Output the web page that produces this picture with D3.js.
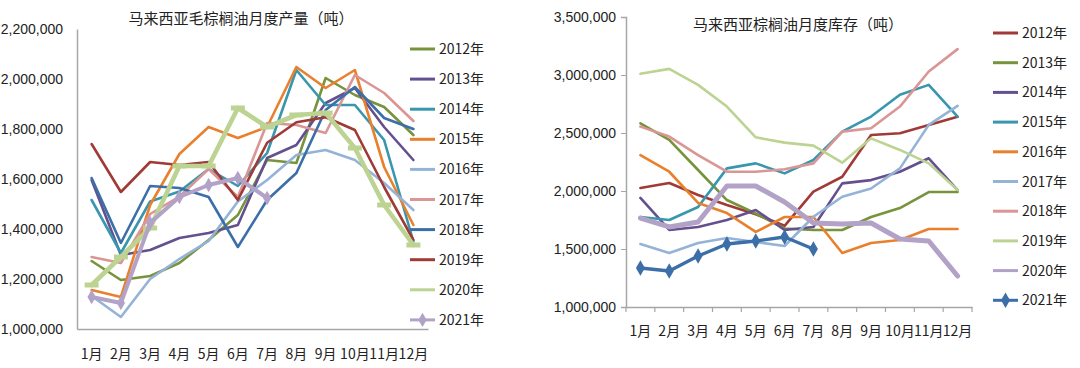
<!DOCTYPE html>
<html><head><meta charset="utf-8">
<script src="https://cdn.jsdelivr.net/npm/d3@7/dist/d3.min.js"></script>
<style>
html,body{margin:0;padding:0;background:#fff;}
svg{display:block;}
text{font-family:"Liberation Sans Narrow","Liberation Sans","Noto Sans CJK SC",sans-serif;fill:#222;}
.cjk{font-family:"Noto Sans CJK SC",sans-serif;}
</style></head><body>
<svg id="c" width="1080" height="368"></svg>
<script>
const months = ["1月","2月","3月","4月","5月","6月","7月","8月","9月","10月","11月","12月"];
const years = ["2012年","2013年","2014年","2015年","2016年","2017年","2018年","2019年","2020年","2021年"];
const prodTicks = [1000000,1200000,1400000,1600000,1800000,2000000,2200000];
const stockTicks = [1000000,1500000,2000000,2500000,3000000,3500000];
const prodTitle = "马来西亚毛棕榈油月度产量（吨）";
const stockTitle = "马来西亚棕榈油月度库存（吨）";

// Production (tonnes)
const prod2012 = [1272000,1196000,1212000,1264000,1356000,1456000,1676000,1664000,2004000,1936000,1888000,1776000];
const prod2013 = [1596000,1296000,1316000,1364000,1384000,1416000,1684000,1736000,1904000,1964000,1808000,1676000];
const prod2014 = [1516000,1304000,1510000,1550000,1640000,1572000,1704000,2036000,1896000,1896000,1756000,1350000];
const prod2015 = [1156000,1128000,1496000,1700000,1808000,1764000,1808000,2048000,1964000,2036000,1648000,1416000];
const prod2016 = [1132000,1048000,1200000,1280000,1352000,1510000,1596000,1696000,1716000,1676000,1584000,1476000];
const prod2017 = [1288000,1264000,1460000,1530000,1640000,1528000,1824000,1816000,1784000,2016000,1944000,1832000];
const prod2018 = [1604000,1344000,1572000,1564000,1528000,1328000,1516000,1624000,1876000,1968000,1844000,1800000];
const prod2019 = [1740000,1548000,1668000,1656000,1668000,1516000,1745000,1827000,1847000,1796000,1568000,1356000];
const prod2020 = [1176000,1288000,1404000,1652000,1652000,1884000,1808000,1856000,1864000,1724000,1496000,1336000];
const prod2021 = [1128000,1104000,1424000,1528000,1576000,1604000,1524000];

// Stocks (tonnes)
const stock2012 = [2026000,2069000,1966000,1879000,1800000,1700000,1994000,2123000,2483000,2498000,2570000,2640000];
const stock2013 = [2584000,2440000,2181000,1922000,1806000,1677000,1664000,1664000,1776000,1853000,1991000,1991000];
const stock2014 = [1940000,1664000,1690000,1750000,1836000,1664000,1690000,2066000,2094000,2166000,2282000,2008000];
const stock2015 = [1776000,1750000,1862000,2195000,2238000,2152000,2267000,2512000,2642000,2829000,2915000,2642000];
const stock2016 = [2310000,2166000,1897000,1810000,1647000,1776000,1776000,1466000,1552000,1578000,1672000,1672000];
const stock2017 = [1543000,1466000,1552000,1595000,1560000,1526000,1778000,1950000,2022000,2195000,2570000,2734000];
const stock2018 = [2555000,2469000,2310000,2166000,2166000,2187000,2238000,2512000,2541000,2728000,3030000,3223000];
const stock2019 = [3010000,3053000,2915000,2728000,2463000,2417000,2391000,2244000,2454000,2354000,2238000,2008000];
const stock2020 = [1767000,1690000,1733000,2043000,2043000,1905000,1724000,1716000,1724000,1586000,1569000,1267000];
const stock2021 = [1336000,1310000,1440000,1543000,1569000,1603000,1500000];

const prodSeries = [prod2012,prod2013,prod2014,prod2015,prod2016,prod2017,prod2018,prod2019,prod2020,prod2021];
const stockSeries = [stock2012,stock2013,stock2014,stock2015,stock2016,stock2017,stock2018,stock2019,stock2020,stock2021];

const prodColors = ["#77933C","#65508F","#3896AE","#E8802E","#95B3D7","#D99694","#3C6FA8","#A03A37","#BCD392","#B3A2C7"];
const prodWidths = [2.6,2.6,2.6,2.6,2.6,2.6,2.6,2.6,4.6,4];
const prodMarkers = [null,null,null,null,null,null,null,null,"dash","diamond"];

const stockColors = ["#A03A37","#77933C","#65508F","#3896AE","#E8802E","#95B3D7","#D99694","#BCD392","#B3A2C7","#3C6FA8"];
const stockWidths = [2.6,2.6,2.6,2.6,2.6,2.6,2.6,2.6,5,3.4];
const stockMarkers = [null,null,null,null,null,null,null,null,null,"diamond"];

const svg = d3.select("#c");
const fmt = d3.format(",");

function drawChart(o){
  const g = svg.append("g");
  const x = d3.scaleBand().domain(months).range([o.x0,o.x1]);
  const y = d3.scaleLinear().domain([o.ticks[0],o.ticks[o.ticks.length-1]]).range([o.y0,o.y1]);
  const ya = d3.axisLeft(y).tickValues(o.ticks).tickFormat(fmt).tickSize(o.yTick).tickPadding(o.yPad);
  const yg = g.append("g").attr("transform",`translate(${o.x0},0)`).call(ya);
  yg.select(".domain").attr("stroke","#a6a6a6").attr("stroke-width",1.5);
  yg.selectAll(".tick line").attr("stroke","#a6a6a6");
  yg.selectAll("text").attr("font-size",o.yFont).attr("fill","#222").style("font-family","'Liberation Sans Narrow','Liberation Sans',sans-serif");
  const xa = d3.axisBottom(x).tickSize(0).tickPadding(o.xPad);
  const xg = g.append("g").attr("transform",`translate(0,${o.y0})`).call(xa);
  xg.select(".domain").attr("stroke","#a6a6a6").attr("stroke-width",1.5);
  xg.selectAll("text").attr("font-size",o.xFont).attr("fill","#222").attr("class","cjk").style("font-family","'Noto Sans CJK SC',sans-serif");
  if(o.xTick){
    const bounds = months.map(m=>x(m)).concat([o.x1]);
    g.selectAll(".xt").data(bounds).join("line")
      .attr("x1",d=>d).attr("x2",d=>d).attr("y1",o.y0).attr("y2",o.y0+5)
      .attr("stroke","#a6a6a6").attr("stroke-width",1.2);
  }
  g.append("text").attr("x",o.titleX).attr("y",o.titleY).attr("text-anchor","middle")
    .attr("font-size",15).attr("fill","#333").style("font-family","'Noto Sans CJK SC',sans-serif").text(o.title);
  const line = d3.line().x((d,i)=>x(months[i])+x.bandwidth()/2).y(d=>y(d)).curve(d3.curveLinear);
  o.series.forEach((s,k)=>{
    g.append("path").datum(s).attr("d",line).attr("fill","none")
      .attr("stroke",o.colors[k]).attr("stroke-width",o.widths[k]).attr("stroke-linejoin","round").attr("stroke-linecap","round");
    const mk = o.markers[k];
    if(mk==="diamond"){
      g.selectAll(null).data(s).join("path")
        .attr("transform",(d,i)=>`translate(${x(months[i])+x.bandwidth()/2},${y(d)})`)
        .attr("d",d3.symbol(d3.symbolDiamond, o.diamondSize)()).attr("fill",o.colors[k]);
    } else if(mk==="dash"){
      g.selectAll(null).data(s).join("rect")
        .attr("x",(d,i)=>x(months[i])+x.bandwidth()/2-7).attr("y",d=>y(d)-2.5)
        .attr("width",14).attr("height",5).attr("fill",o.colors[k]);
    }
  });
  years.forEach((yr,k)=>{
    const ly = o.legY0 + k*o.legStep;
    g.append("line").attr("x1",o.legX).attr("x2",o.legX+25).attr("y1",ly).attr("y2",ly)
      .attr("stroke",o.colors[k]).attr("stroke-width",3);
    if(o.markers[k]==="diamond"){
      g.append("path").attr("transform",`translate(${o.legX+12.5},${ly})`)
        .attr("d",d3.symbol(d3.symbolDiamond, o.diamondSize)()).attr("fill",o.colors[k]);
    }
    g.append("text").attr("x",o.legX+29).attr("y",ly+5).attr("font-size",14).attr("fill","#222")
      .style("font-family","'Liberation Sans Narrow','Noto Sans CJK SC',sans-serif").text(yr);
  });
}

drawChart({
  x0:77,x1:428,y0:329,y1:29,ticks:prodTicks,series:prodSeries,colors:prodColors,widths:prodWidths,markers:prodMarkers,
  yTick:0,yPad:14,yFont:14,xPad:20,xFont:14,xTick:false,title:prodTitle,titleX:241,titleY:24,
  legX:410,legY0:49,legStep:30.1,diamondSize:60
});
drawChart({
  x0:626,x1:972,y0:307,y1:17,ticks:stockTicks,series:stockSeries,colors:stockColors,widths:stockWidths,markers:stockMarkers,
  yTick:5,yPad:5,yFont:14,xPad:19,xFont:14,xTick:true,title:stockTitle,titleX:798,titleY:30,
  legX:993,legY0:33,legStep:29.7,diamondSize:70
});
</script>
</body></html>
